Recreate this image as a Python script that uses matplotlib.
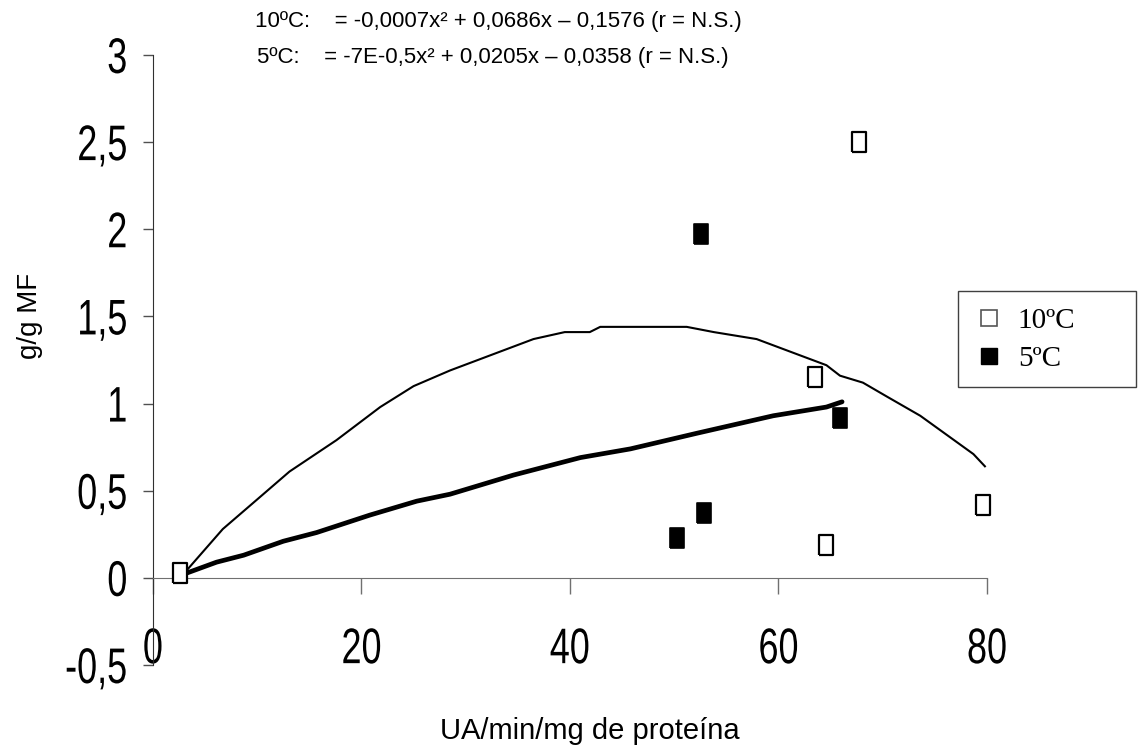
import numpy as np
import matplotlib
matplotlib.use("Agg")
import matplotlib.pyplot as plt
from matplotlib.lines import Line2D
from matplotlib.patches import Rectangle
from matplotlib.patheffects import AbstractPathEffect
from matplotlib.transforms import Affine2D

# fitted curves
curve10_x = [2.9, 6.7, 10.0, 13.1, 17.6, 21.8, 25.0, 28.5, 36.5, 39.5, 41.9, 42.9,
             51.2, 53.8, 57.9, 64.6, 65.9, 68.1, 70.4, 73.6, 78.7, 79.8]
curve10_y = [0.02, 0.28, 0.45, 0.61, 0.79, 0.98, 1.10, 1.19, 1.37, 1.41, 1.41, 1.44,
             1.44, 1.41, 1.37, 1.22, 1.16, 1.12, 1.04, 0.93, 0.71, 0.64]
curve5_x = [2.9, 6.1, 8.7, 12.5, 15.7, 20.8, 25.3, 28.5, 34.6, 41.0, 45.8, 52.2, 59.5, 64.6, 66.1]
curve5_y = [0.02, 0.09, 0.13, 0.21, 0.26, 0.36, 0.44, 0.48, 0.59, 0.69, 0.74, 0.83, 0.93, 0.98, 1.01]

# measured points
pts10_x = [2.6, 67.7, 63.5, 64.6, 79.6]
pts10_y = [0.03, 2.50, 1.15, 0.19, 0.42]
pts5_x = [52.6, 65.9, 50.3, 52.9]
pts5_y = [1.97, 0.92, 0.23, 0.37]

yticks = [-0.5, 0, 0.5, 1, 1.5, 2, 2.5, 3]
ytick_labels = ["-0,5", "0", "0,5", "1", "1,5", "2", "2,5", "3"]
xticks = [0, 20, 40, 60, 80]
xtick_labels = ["0", "20", "40", "60", "80"]

eq10 = "10ºC:    = -0,0007x² + 0,0686x – 0,1576 (r = N.S.)"
eq5 = "5ºC:    = -7E-0,5x² + 0,0205x – 0,0358 (r = N.S.)"

sans = ["Liberation Sans", "DejaVu Sans"]
serif = ["Liberation Serif", "DejaVu Serif"]


class Squeeze(AbstractPathEffect):
    # narrow the glyphs horizontally (the tick font looks like Arial Narrow)
    def __init__(self, sx, anchor="center"):
        super().__init__()
        self.sx = sx
        self.anchor = anchor

    def draw_path(self, renderer, gc, tpath, affine, rgbFace=None):
        ext = tpath.get_extents()
        cx = ext.x1 if self.anchor == "right" else (ext.x0 + ext.x1) / 2
        sq = Affine2D().translate(-cx, 0).scale(self.sx, 1).translate(cx, 0)
        renderer.draw_path(gc, sq.transform_path(tpath), affine, rgbFace)


rect = [(-0.72, -1), (0.72, -1), (0.72, 1), (-0.72, 1), (-0.72, -1)]

fig = plt.figure(figsize=(11.38, 7.55), dpi=100)
ax = fig.add_axes([0.1344, 0.1192, 0.7329, 0.808])

ax.plot(curve10_x, curve10_y, color="black", lw=1.5, zorder=2)
ax.plot(curve5_x, curve5_y, color="black", lw=3.4, solid_capstyle="round", zorder=2)
ax.plot(pts10_x, pts10_y, ls="none", marker=rect, ms=15, mfc="white", mec="black", mew=1.6,
        zorder=3, clip_on=False)
ax.plot(pts5_x, pts5_y, ls="none", marker=rect, ms=15, mfc="black", mec="black", mew=1.2,
        zorder=3, clip_on=False)

ax.set_xlim(0, 80)
ax.set_ylim(-0.5, 3)
ax.spines["top"].set_visible(False)
ax.spines["right"].set_visible(False)
ax.spines["bottom"].set_position(("data", 0))
ax.spines["bottom"].set_color("#707070")
ax.spines["left"].set_color("#303030")

ax.set_xticks(xticks)
xl = ax.set_xticklabels(xtick_labels, family=sans, fontsize=36)
ax.set_yticks(yticks)
yl = ax.set_yticklabels(ytick_labels, family=sans, fontsize=36)
for t in xl:
    t.set_path_effects([Squeeze(0.72, "center")])
for t in yl:
    t.set_path_effects([Squeeze(0.72, "right")])
ax.tick_params(axis="x", length=11.5, width=1, color="#707070", pad=24)
ax.tick_params(axis="y", length=7, width=1, color="#505050", pad=11)

fig.text(590 / 1138, 1 - 731 / 755, "UA/min/mg de proteína", family=sans, fontsize=21,
         ha="center", va="center")
fig.text(30 / 1138, 1 - 316 / 755, "g/g MF", family=sans, fontsize=20,
         ha="center", va="center", rotation=90)
fig.text(255 / 1138, 1 - 22 / 755, eq10, family=sans, fontsize=16, ha="left", va="center")
fig.text(257 / 1138, 1 - 57 / 755, eq5, family=sans, fontsize=16, ha="left", va="center")

# legend box drawn by hand, wider than the entries
fig.add_artist(Rectangle((958 / 1138, 1 - 387 / 755), 178 / 1138, 96 / 755,
                         transform=fig.transFigure, fill=False, ec="#404040", lw=1))
handles = [
    Line2D([], [], ls="none", marker="s", ms=12, mfc="white", mec="#555555", mew=1.2),
    Line2D([], [], ls="none", marker="s", ms=11, mfc="black", mec="black"),
]
leg = fig.legend(handles, ["10ºC", "5ºC"], loc="upper left",
                 bbox_to_anchor=(977 / 1138, 1 - 308 / 755),
                 prop={"family": serif, "size": 21}, frameon=False,
                 borderpad=0, handlelength=0.8, handletextpad=0.6,
                 labelspacing=0.4, borderaxespad=0)

fig.savefig("out.png", dpi=100)
